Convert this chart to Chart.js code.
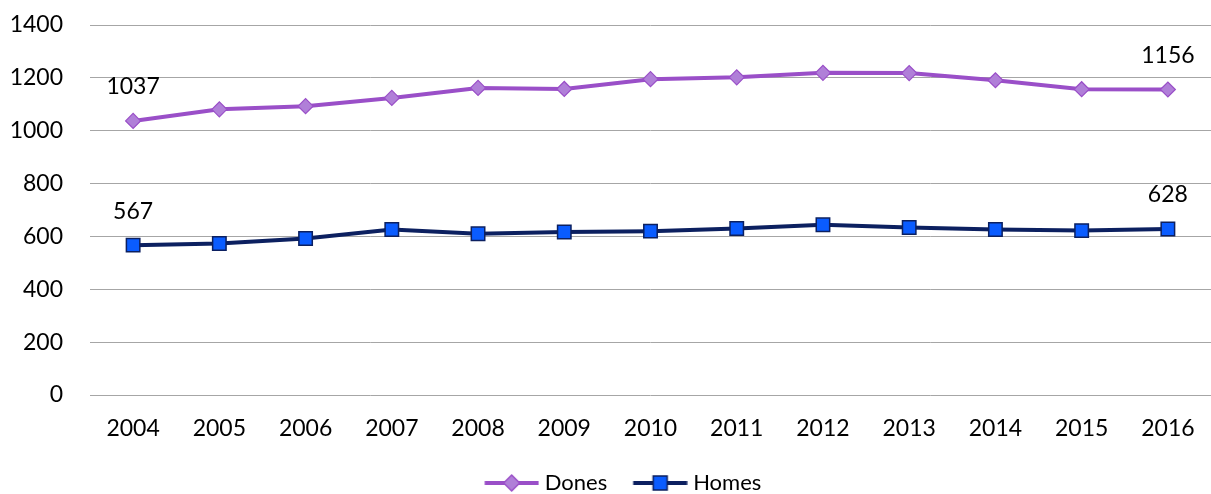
<!DOCTYPE html>
<html lang="ca">
<head>
<meta charset="UTF-8">
<title>Dones i Homes 2004-2016</title>
<script src="https://cdn.jsdelivr.net/npm/chart.js"></script>
<style>
  body { margin: 0; background: #fff; overflow: hidden; }
  #wrap { width: 1222px; height: 504px; }
</style>
</head>
<body>
<div id="wrap">
  <canvas id="grafic" width="1222" height="504"></canvas>
</div>
<script>
    // dades llegides del gràfic
    const anys = ['2004', '2005', '2006', '2007', '2008', '2009', '2010', '2011', '2012', '2013', '2014', '2015', '2016'];
    const dones = [1037, 1081, 1093, 1124, 1162, 1158, 1195, 1202, 1219, 1218, 1191, 1157, 1156];
    const homes = [567, 573, 592, 626, 610, 617, 620, 630, 644, 634, 626, 622, 628];
    const yTicks = [0, 200, 400, 600, 800, 1000, 1200, 1400];

    const FONT = 'Lato, "Open Sans", sans-serif';

    // icona de la llegenda: línia amb el marcador al mig
    function iconaLlegenda(colorLinia, colorFons, forma) {
        const c = document.createElement('canvas');
        c.width = 86;
        c.height = 22;
        const ctx = c.getContext('2d');
        ctx.strokeStyle = colorLinia;
        ctx.lineWidth = 4;
        ctx.beginPath();
        ctx.moveTo(31.5, 11);
        ctx.lineTo(85.5, 11);
        ctx.stroke();
        const cx = 58.5, cy = 11;
        ctx.fillStyle = colorFons;
        ctx.lineWidth = 1.5;
        ctx.beginPath();
        if (forma === 'diamant') {
            ctx.moveTo(cx, cy - 8);
            ctx.lineTo(cx + 8, cy);
            ctx.lineTo(cx, cy + 8);
            ctx.lineTo(cx - 8, cy);
            ctx.closePath();
        } else {
            ctx.rect(cx - 7, cy - 7, 14, 14);
        }
        ctx.fill();
        ctx.stroke();
        return c;
    }

    // etiquetes del primer i l'últim punt
    const etiquetesExtrems = {
        id: 'etiquetesExtrems',
        afterDatasetsDraw(chart) {
            const ctx = chart.ctx;
            ctx.save();
            ctx.font = '23px ' + FONT;
            ctx.fillStyle = '#000';
            ctx.textAlign = 'center';
            ctx.textBaseline = 'middle';
            chart.data.datasets.forEach(function (ds, i) {
                const meta = chart.getDatasetMeta(i);
                const idx = [0, ds.data.length - 1];
                idx.forEach(function (j) {
                    const p = meta.data[j];
                    ctx.fillText(String(ds.data[j]), p.x, p.y - 34);
                });
            });
            ctx.restore();
        }
    };

    const iconaDones = iconaLlegenda('#9a4fc8', '#b07fd8', 'diamant');
    const iconaHomes = iconaLlegenda('#0c2060', '#0a5cff', 'quadrat');

    const ctx = document.getElementById('grafic').getContext('2d');
    new Chart(ctx, {
        type: 'line',
        data: {
            labels: anys,
            datasets: [{
                label: 'Dones',
                data: dones,
                borderColor: '#9a4fc8',
                borderWidth: 4,
                pointStyle: 'rectRot',
                pointRadius: 7.5,
                pointBackgroundColor: '#b07fd8',
                pointBorderColor: '#9a4fc8',
                pointBorderWidth: 1.2,
                tension: 0
            }, {
                label: 'Homes',
                data: homes,
                borderColor: '#0c2060',
                borderWidth: 4,
                pointStyle: 'rect',
                pointRadius: 9.5,
                pointBackgroundColor: '#0a5cff',
                pointBorderColor: '#0c2060',
                pointBorderWidth: 1.5,
                tension: 0
            }]
        },
        options: {
            responsive: false,
            animation: false,
            layout: { padding: { top: 25, right: 2, left: 0, bottom: 0 } },
            scales: {
                x: {
                    offset: true,
                    grid: { display: false, drawTicks: false },
                    border: { display: false },
                    ticks: {
                        color: '#000',
                        padding: 20,
                        font: { family: FONT, size: 23 },
                        maxRotation: 0,
                        autoSkip: false
                    },
                    afterFit(scale) { scale.height = 77; }
                },
                y: {
                    min: 0,
                    max: 1400,
                    afterBuildTicks(scale) {
                        scale.ticks = yTicks.map(function (v) { return { value: v }; });
                    },
                    grid: {
                        color: '#a6a6a6',
                        lineWidth: 1,
                        drawTicks: true,
                        tickLength: 27,
                        tickColor: 'rgba(0,0,0,0)'
                    },
                    border: { display: false },
                    ticks: {
                        color: '#000',
                        padding: 0,
                        font: { family: FONT, size: 23 },
                        callback(v) { return String(v); }
                    },
                    afterFit(scale) { scale.width = 90; }
                }
            },
            plugins: {
                legend: {
                    position: 'bottom',
                    labels: {
                        usePointStyle: true,
                        pointStyleWidth: 75,
                        padding: 0,
                        color: '#000',
                        font: { family: FONT, size: 22 },
                        generateLabels(chart) {
                            return chart.data.datasets.map(function (ds, i) {
                                return {
                                    text: ds.label,
                                    pointStyle: i === 0 ? iconaDones : iconaHomes,
                                    fontColor: '#000',
                                    lineWidth: 0,
                                    strokeStyle: 'transparent',
                                    fillStyle: 'transparent',
                                    hidden: false,
                                    datasetIndex: i
                                };
                            });
                        }
                    }
                },
                tooltip: { enabled: false }
            }
        },
        plugins: [etiquetesExtrems]
    });
</script>
</body>
</html>
